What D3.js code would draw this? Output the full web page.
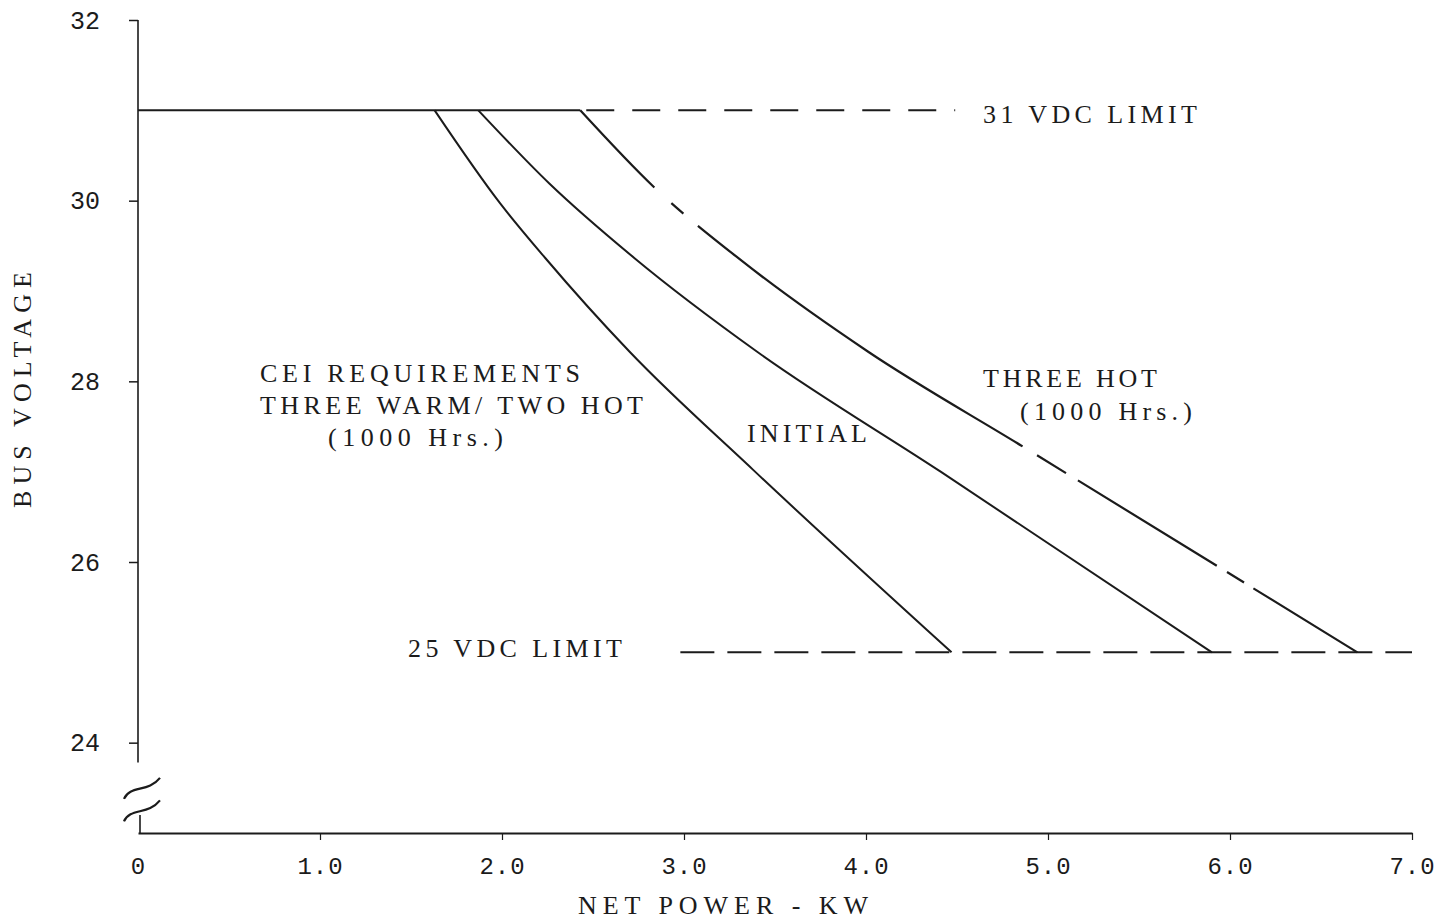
<!DOCTYPE html>
<html>
<head>
<meta charset="utf-8">
<script src="https://cdn.jsdelivr.net/npm/d3@7"></script>
<style>
  body { margin: 0; background: #fff; }
  svg { display: block; }
</style>
</head>
<body>
<div id="chart"></div>
<script>
// values (kW vs bus volts)
const ceiKw = [1.63, 1.99, 2.24, 2.70, 3.38, 4.47];
const ceiV = [31, 29.97, 29.36, 28.33, 27.02, 25];

const initialKw = [1.87, 2.26, 2.73, 3.40, 4.41, 5.90];
const initialV = [31, 30.19, 29.36, 28.33, 27, 25];

const hotKw = [2.43, 2.84, 3.32, 4.01, 4.86, 6.70];
const hotV = [31, 30.14, 29.33, 28.33, 27.28, 25];

const limit31Kw = [0, 2.43, 4.49];   // solid up to the three hot knee, dashed after
const limit25Kw = [2.98, 7.0];

const xTicks = [0, 1, 2, 3, 4, 5, 6, 7];
const yTicks = [24, 26, 28, 30, 32];

const width = 1439;
const height = 922;
const ink = "#1b1b1b";

const svg = d3.select("#chart")
  .append("svg")
  .attr("width", width)
  .attr("height", height);

const x = d3.scaleLinear().domain([0, 7]).range([138, 1412]);
const y = d3.scaleLinear().domain([23, 32]).range([833, 20]);

const zip = (a, b) => a.map((d, i) => [d, b[i]]);

const line = d3.line()
  .x(d => x(d[0]))
  .y(d => y(d[1]))
  .curve(d3.curveMonotoneX);

// x axis
const xAxis = svg.append("g")
  .attr("transform", "translate(0," + y(23) + ")")
  .call(d3.axisBottom(x)
    .tickValues(xTicks)
    .tickSize(7)
    .tickSizeOuter(0)
    .tickPadding(17)
    .tickFormat(d => d === 0 ? "0" : d.toFixed(1)));

xAxis.select(".domain").attr("stroke", ink).attr("stroke-width", 2.2);
xAxis.selectAll(".tick line").attr("stroke", ink).attr("stroke-width", 1.2);
xAxis.selectAll(".tick text")
  .attr("fill", ink)
  .attr("font-family", "Liberation Mono")
  .attr("font-size", "24px")
  .attr("letter-spacing", "1px");
xAxis.select(".tick line").remove();

// y axis (ticks + labels only, the line is drawn by hand because of the break)
const yAxis = svg.append("g")
  .attr("transform", "translate(" + x(0) + ",0)")
  .call(d3.axisLeft(y)
    .tickValues(yTicks)
    .tickSize(9)
    .tickPadding(29)
    .tickFormat(d3.format("d")));

yAxis.select(".domain").remove();
yAxis.selectAll(".tick line").attr("stroke", ink).attr("stroke-width", 1.5);
yAxis.selectAll(".tick text")
  .attr("fill", ink)
  .attr("font-family", "Liberation Mono")
  .attr("font-size", "25px");

svg.append("line")
  .attr("x1", x(0)).attr("x2", x(0))
  .attr("y1", y(32)).attr("y2", y(23.78))
  .attr("stroke", ink)
  .attr("stroke-width", 1.6);

svg.append("line")
  .attr("x1", x(0) + 2).attr("x2", x(0) + 2)
  .attr("y1", y(23.2)).attr("y2", y(23))
  .attr("stroke", ink)
  .attr("stroke-width", 1.6);

// axis break marks
[23.5, 23.25].forEach(v => {
  const cx = x(0) + 4, cy = y(v);
  svg.append("path")
    .attr("d", "M" + (cx - 18) + "," + (cy + 11) +
      " C" + (cx - 12) + "," + (cy - 3) + " " + (cx + 6) + "," + (cy + 5) + " " + (cx + 18) + "," + (cy - 10))
    .attr("fill", "none")
    .attr("stroke", ink)
    .attr("stroke-width", 2.2);
});

// 31 VDC limit
svg.append("line")
  .attr("x1", x(limit31Kw[0])).attr("x2", x(limit31Kw[1]))
  .attr("y1", y(31)).attr("y2", y(31))
  .attr("stroke", ink)
  .attr("stroke-width", 2);

svg.append("line")
  .attr("x1", x(limit31Kw[1]) + 6).attr("x2", x(limit31Kw[2]))
  .attr("y1", y(31)).attr("y2", y(31))
  .attr("stroke", ink)
  .attr("stroke-width", 2)
  .attr("stroke-dasharray", "28,18");

// 25 VDC limit
svg.append("line")
  .attr("x1", x(limit25Kw[0])).attr("x2", x(limit25Kw[1]))
  .attr("y1", y(25)).attr("y2", y(25))
  .attr("stroke", ink)
  .attr("stroke-width", 2)
  .attr("stroke-dasharray", "34,13");

// curves
svg.append("path")
  .datum(zip(ceiKw, ceiV))
  .attr("d", line)
  .attr("fill", "none")
  .attr("stroke", ink)
  .attr("stroke-width", 2);

svg.append("path")
  .datum(zip(initialKw, initialV))
  .attr("d", line)
  .attr("fill", "none")
  .attr("stroke", ink)
  .attr("stroke-width", 2);

svg.append("path")
  .datum(zip(hotKw, hotV))
  .attr("d", line)
  .attr("fill", "none")
  .attr("stroke", ink)
  .attr("stroke-width", 2.2)
  .attr("stroke-dasharray", "107,23,16,19,393,17,34,14,163,12,20,11,400");

// text labels
const labels = [
  { t: "31 VDC LIMIT", x: 983, y: 123, w: 214 },
  { t: "25 VDC LIMIT", x: 408, y: 657, w: 214 },
  { t: "CEI REQUIREMENTS", x: 260, y: 382, w: 320 },
  { t: "THREE WARM/ TWO HOT", x: 260, y: 414, w: 383 },
  { t: "(1000 Hrs.)", x: 328, y: 446, w: 175 },
  { t: "INITIAL", x: 747, y: 442, w: 120 },
  { t: "THREE HOT", x: 983, y: 387, w: 174 },
  { t: "(1000 Hrs.)", x: 1020, y: 420, w: 172 },
  { t: "NET POWER - KW", x: 578, y: 914, w: 290 }
];

svg.selectAll("text.lbl")
  .data(labels)
  .enter()
  .append("text")
  .attr("class", "lbl")
  .attr("x", d => d.x)
  .attr("y", d => d.y)
  .attr("textLength", d => d.w)
  .attr("lengthAdjust", "spacing")
  .attr("font-family", "Liberation Serif")
  .attr("font-size", "26px")
  .attr("fill", ink)
  .text(d => d.t);

svg.append("text")
  .attr("transform", "translate(31,390) rotate(-90)")
  .attr("text-anchor", "middle")
  .attr("textLength", 236)
  .attr("lengthAdjust", "spacing")
  .attr("font-family", "Liberation Serif")
  .attr("font-size", "26px")
  .attr("fill", ink)
  .text("BUS VOLTAGE");
</script>
</body>
</html>
